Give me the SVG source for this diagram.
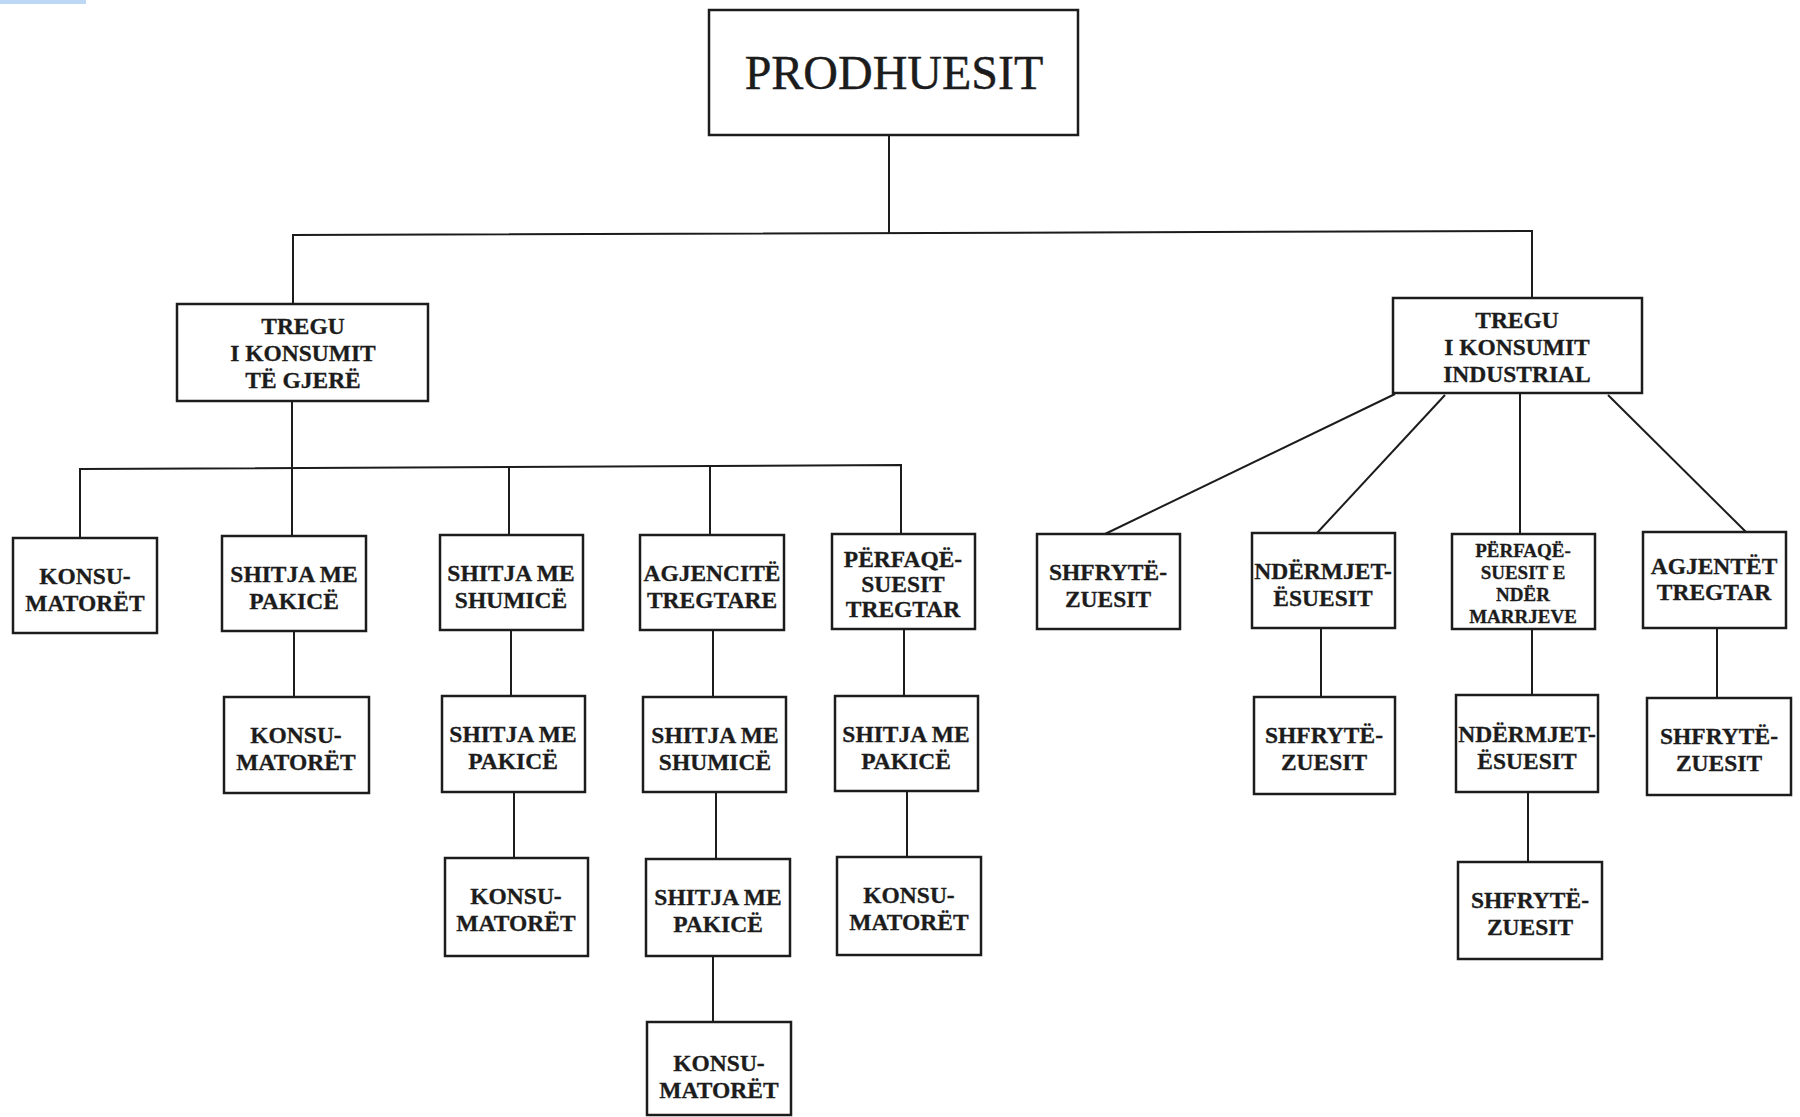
<svg xmlns="http://www.w3.org/2000/svg" width="1800" height="1117" viewBox="0 0 1800 1117">
<style>
.bx{fill:#fff;stroke:#1c1c1c;stroke-width:2.5}
.ln{fill:none;stroke:#1c1c1c;stroke-width:2}
.t{font-family:"Liberation Serif","Times New Roman",serif;font-weight:bold;font-size:23.5px;fill:#1c1c1c;stroke:#1c1c1c;stroke-width:0.3;text-anchor:middle}
.s{font-size:19px}
.big{font-family:"Liberation Serif","Times New Roman",serif;font-size:48px;fill:#1c1c1c;stroke:#1c1c1c;stroke-width:0.4;text-anchor:middle}
</style>
<rect width="1800" height="1117" fill="#fff"/>
<rect x="0" y="0" width="86" height="4" fill="#bcd8f5"/>
<g id="connectors" class="ln">
<path d="M889,135 V234"/>
<path d="M293,304 V235 L1532,231 V298"/>
<path d="M292,401 V536"/>
<path d="M80,538 V469 L901,465 V534"/>
<path d="M509,467 V535"/>
<path d="M710,466 V535"/>
<path d="M294,631 V697"/>
<path d="M511,630 V696"/>
<path d="M713,630 V697"/>
<path d="M904,629 V696"/>
<path d="M514,792 V858"/>
<path d="M716,792 V859"/>
<path d="M907,791 V857"/>
<path d="M713,956 V1022"/>
<path d="M1395,394 L1105,534"/>
<path d="M1445,395 L1317,533"/>
<path d="M1520,394 V534"/>
<path d="M1608,395 L1746,532"/>
<path d="M1321,628 V697"/>
<path d="M1532,629 V695"/>
<path d="M1717,628 V698"/>
<path d="M1528,792 V862"/>
</g>
<g id="prodhuesit"><rect class="bx" x="709" y="10" width="369" height="125"/><text class="big" x="894" y="89">PRODHUESIT</text></g>
<g id="tregu-gjere"><rect class="bx" x="177" y="304" width="251" height="97"/><text class="t" x="303" y="334">TREGU</text><text class="t" x="303" y="361">I KONSUMIT</text><text class="t" x="303" y="388">TË GJERË</text></g>
<g id="tregu-industrial"><rect class="bx" x="1393" y="298" width="249" height="95"/><text class="t" x="1517" y="328">TREGU</text><text class="t" x="1517" y="355">I KONSUMIT</text><text class="t" x="1517" y="382">INDUSTRIAL</text></g>
<g id="a1"><rect class="bx" x="13" y="538" width="144" height="95"/><text class="t" x="85" y="584">KONSU-</text><text class="t" x="85" y="611">MATORËT</text></g>
<g id="a2"><rect class="bx" x="222" y="536" width="144" height="95"/><text class="t" x="294" y="582">SHITJA ME</text><text class="t" x="294" y="609">PAKICË</text></g>
<g id="a3"><rect class="bx" x="440" y="535" width="143" height="95"/><text class="t" x="511" y="581">SHITJA ME</text><text class="t" x="511" y="608">SHUMICË</text></g>
<g id="a4"><rect class="bx" x="640" y="535" width="144" height="95"/><text class="t" x="712" y="581">AGJENCITË</text><text class="t" x="712" y="608">TREGTARE</text></g>
<g id="a5"><rect class="bx" x="832" y="534" width="143" height="95"/><text class="t" x="903" y="567">PËRFAQË-</text><text class="t" x="903" y="592">SUESIT</text><text class="t" x="903" y="617">TREGTAR</text></g>
<g id="b2"><rect class="bx" x="224" y="697" width="145" height="96"/><text class="t" x="296" y="743">KONSU-</text><text class="t" x="296" y="770">MATORËT</text></g>
<g id="b3"><rect class="bx" x="442" y="696" width="143" height="96"/><text class="t" x="513" y="742">SHITJA ME</text><text class="t" x="513" y="769">PAKICË</text></g>
<g id="b4"><rect class="bx" x="643" y="697" width="143" height="95"/><text class="t" x="715" y="743">SHITJA ME</text><text class="t" x="715" y="770">SHUMICË</text></g>
<g id="b5"><rect class="bx" x="835" y="696" width="143" height="95"/><text class="t" x="906" y="742">SHITJA ME</text><text class="t" x="906" y="769">PAKICË</text></g>
<g id="c3"><rect class="bx" x="445" y="858" width="143" height="98"/><text class="t" x="516" y="904">KONSU-</text><text class="t" x="516" y="931">MATORËT</text></g>
<g id="c4"><rect class="bx" x="646" y="859" width="144" height="97"/><text class="t" x="718" y="905">SHITJA ME</text><text class="t" x="718" y="932">PAKICË</text></g>
<g id="c5"><rect class="bx" x="837" y="857" width="144" height="98"/><text class="t" x="909" y="903">KONSU-</text><text class="t" x="909" y="930">MATORËT</text></g>
<g id="d4"><rect class="bx" x="647" y="1022" width="144" height="93"/><text class="t" x="719" y="1071">KONSU-</text><text class="t" x="719" y="1098">MATORËT</text></g>
<g id="r1a"><rect class="bx" x="1037" y="534" width="143" height="95"/><text class="t" x="1108" y="580">SHFRYTË-</text><text class="t" x="1108" y="607">ZUESIT</text></g>
<g id="r1b"><rect class="bx" x="1252" y="533" width="143" height="95"/><text class="t" x="1323" y="579">NDËRMJET-</text><text class="t" x="1323" y="606">ËSUESIT</text></g>
<g id="r1c"><rect class="bx" x="1452" y="534" width="143" height="95"/><text class="t s" x="1523" y="557">PËRFAQË-</text><text class="t s" x="1523" y="579">SUESIT E</text><text class="t s" x="1523" y="601">NDËR</text><text class="t s" x="1523" y="623">MARRJEVE</text></g>
<g id="r1d"><rect class="bx" x="1643" y="532" width="143" height="96"/><text class="t" x="1714" y="574">AGJENTËT</text><text class="t" x="1714" y="600">TREGTAR</text></g>
<g id="r2b"><rect class="bx" x="1254" y="697" width="141" height="97"/><text class="t" x="1324" y="743">SHFRYTË-</text><text class="t" x="1324" y="770">ZUESIT</text></g>
<g id="r2c"><rect class="bx" x="1456" y="695" width="142" height="97"/><text class="t" x="1527" y="742">NDËRMJET-</text><text class="t" x="1527" y="769">ËSUESIT</text></g>
<g id="r2d"><rect class="bx" x="1647" y="698" width="144" height="97"/><text class="t" x="1719" y="744">SHFRYTË-</text><text class="t" x="1719" y="771">ZUESIT</text></g>
<g id="r3c"><rect class="bx" x="1458" y="862" width="144" height="97"/><text class="t" x="1530" y="908">SHFRYTË-</text><text class="t" x="1530" y="935">ZUESIT</text></g>
</svg>
